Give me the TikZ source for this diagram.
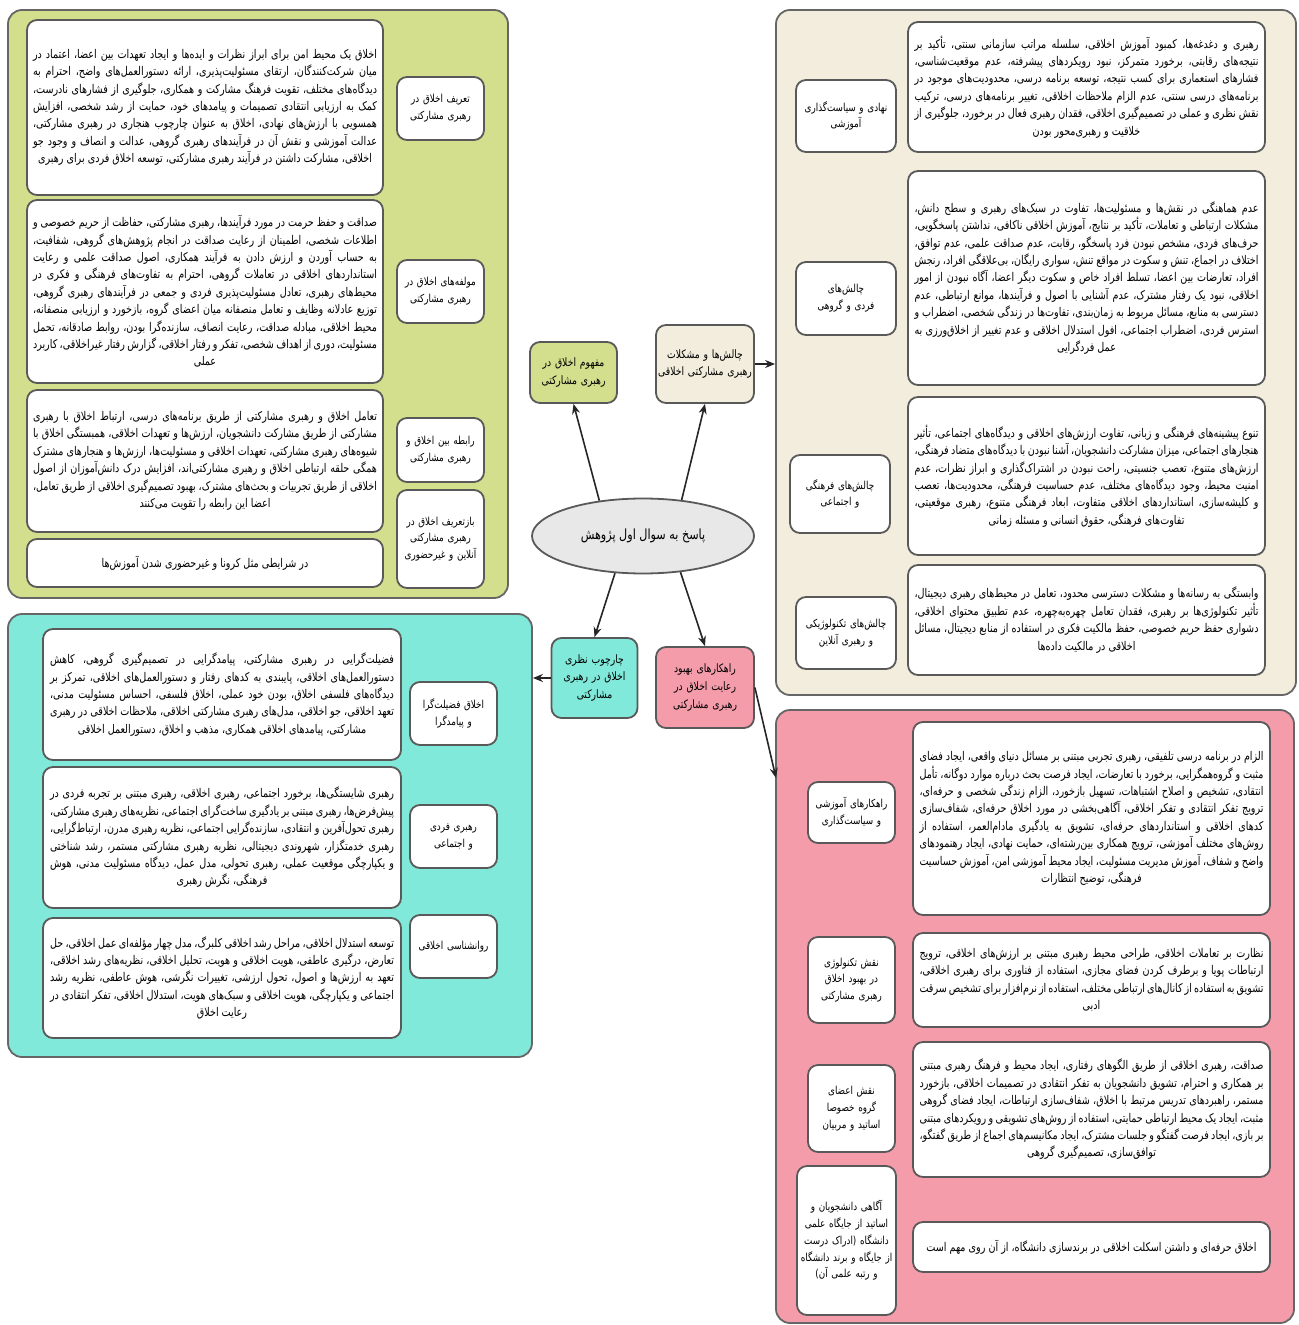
\documentclass[tikz,border=0pt]{standalone}
\usepackage{fontspec}
\usetikzlibrary{arrows.meta,shapes.geometric}
\newfontfamily\fa[Script=Arabic,FakeStretch=0.8]{DejaVu Sans}
\TeXXeTstate=1
\newcommand\fatx[1]{\beginR #1\endR}
\newcommand\fapar[1]{\parbox{172pt}{\fa\fontsize{6}{8.7}\selectfont
  \leftskip=0pt plus 1fil\rightskip=0pt plus -1fil\parfillskip=0pt plus 2fil\relax
  \hyphenpenalty=10000 \exhyphenpenalty=10000
  \beginR #1\endR}}
\definecolor{gfill}{HTML}{D4DF8D}
\definecolor{bfill}{HTML}{F2EDDD}
\definecolor{tfill}{HTML}{80E9D9}
\definecolor{pfill}{HTML}{F59CAB}
\definecolor{efill}{HTML}{E8E8E8}
\tikzset{
 panel/.style={draw=black!60, line width=0.9pt, rounded corners=7pt, inner sep=0pt},
 tbox/.style={draw=black!65, fill=white, line width=0.9pt, rounded corners=5pt, inner sep=2pt},
 lbox/.style={draw=black!65, fill=white, line width=0.9pt, rounded corners=5pt, inner sep=1pt, align=center, font=\fa\fontsize{5.5}{8.4}\selectfont},
 hub/.style={draw=black!65, line width=0.9pt, rounded corners=5pt, inner sep=1pt, align=center, font=\fa\fontsize{5.8}{8.8}\selectfont},
 arr/.style={draw=black!85, line width=0.8pt, -{Stealth[length=5pt,width=4pt]}},
}
\begin{document}
\begin{tikzpicture}[x=0.5pt,y=-0.5pt]
\useasboundingbox (0,0) rectangle (1298,1325);
% panels
\node[panel, fill=gfill, minimum width=250pt, minimum height=294pt] (gp) at (258,304) {};
\node[panel, fill=bfill, minimum width=260pt, minimum height=342.5pt] (bp) at (1036,352.5) {};
\node[panel, fill=tfill, minimum width=262pt, minimum height=221.5pt] (tp) at (270,835.5) {};
\node[panel, fill=pfill, minimum width=259pt, minimum height=306.5pt] (pp) at (1035,1016.5) {};

% green panel
\node[tbox, minimum width=178pt, minimum height=87.5pt] (gt1) at (205,107.5) {\fapar{اخلاق یک محیط امن برای ابراز نظرات و ایده‌ها و ایجاد تعهدات بین اعضا، اعتماد در میان شرکت‌کنندگان، ارتقای مسئولیت‌پذیری، ارائه دستورالعمل‌های واضح، احترام به دیدگاه‌های مختلف، تقویت فرهنگ مشارکت و همکاری، جلوگیری از فشارهای نادرست، کمک به ارزیابی انتقادی تصمیمات و پیامدهای خود، حمایت از رشد شخصی، افزایش همسویی با ارزش‌های نهادی، اخلاق به عنوان چارچوب هنجاری در رهبری مشارکتی، عدالت آموزشی و نقش آن در فرآیندهای رهبری گروهی، عدالت و انصاف و وجود جو اخلاقی، مشارکت داشتن در فرآیند رهبری مشارکتی، توسعه اخلاق فردی برای رهبری}};
\node[lbox, minimum width=43.5pt, minimum height=31.5pt, text width=41pt] (gl1) at (440.5,108.5) {\fatx{تعریف اخلاق در رهبری مشارکتی}};
\node[tbox, minimum width=178pt, minimum height=91.5pt] (gt2) at (205,291.5) {\fapar{صداقت و حفظ حرمت در مورد فرآیندها، رهبری مشارکتی، حفاظت از حریم خصوصی و اطلاعات شخصی، اطمینان از رعایت صداقت در انجام پژوهش‌های گروهی، شفافیت، به حساب آوردن و ارزش دادن به فرآیند همکاری، اصول صداقت علمی و رعایت استانداردهای اخلاقی در تعاملات گروهی، احترام به تفاوت‌های فرهنگی و فکری در محیط‌های رهبری، تعادل مسئولیت‌پذیری فردی و جمعی در فرآیندهای رهبری گروهی، توزیع عادلانه وظایف و تعامل منصفانه میان اعضای گروه، بازخورد و ارزیابی منصفانه، محیط اخلاقی، مبادله صداقت، رعایت انصاف، سازنده‌گرا بودن، روابط صادقانه، تحمل مسئولیت، دوری از اهداف شخصی، تفکر و رفتار اخلاقی، گزارش رفتار غیراخلاقی، کاربرد عملی}};
\node[lbox, minimum width=43.5pt, minimum height=31.5pt, text width=41pt] (gl2) at (440.5,291.5) {\fatx{مولفه‌های اخلاق در رهبری مشارکتی}};
\node[tbox, minimum width=178pt, minimum height=71pt] (gt3) at (205,461) {\fapar{تعامل اخلاق و رهبری مشارکتی از طریق برنامه‌های درسی، ارتباط اخلاق با رهبری مشارکتی از طریق مشارکت دانشجویان، ارزش‌ها و تعهدات اخلاقی، همبستگی اخلاق با شیوه‌های رهبری مشارکتی، تعهدات اخلاقی و مسئولیت‌ها، ارزش‌ها و هنجارهای مشترک همگی حلقه ارتباطی اخلاق و رهبری مشارکتی‌اند، افزایش درک دانش‌آموزان از اصول اخلاقی از طریق تجربیات و بحث‌های مشترک، بهبود تصمیم‌گیری اخلاقی از طریق تعامل، اعضا این رابطه را تقویت می‌کنند}};
\node[lbox, minimum width=43.5pt, minimum height=32pt, text width=41pt] (gl3) at (440.5,450) {\fatx{رابطه بین اخلاق و رهبری مشارکتی}};
\node[lbox, minimum width=43.5pt, minimum height=49pt, text width=41pt] (gl4) at (440.5,539) {\fatx{بازتعریف اخلاق در رهبری مشارکتی آنلاین و غیرحضوری}};
\node[tbox, minimum width=178pt, minimum height=24pt] (gt4) at (205,563) {\fapar{در شرایطی مثل کرونا و غیرحضوری شدن آموزش‌ها}};

% beige panel
\node[tbox, minimum width=178.5pt, minimum height=65pt] (bt1) at (1086.5,87) {\fapar{رهبری و دغدغه‌ها، کمبود آموزش اخلاقی، سلسله مراتب سازمانی سنتی، تأکید بر نتیجه‌های رقابتی، برخورد متمرکز، نبود رویکردهای پیشرفته، عدم موقعیت‌شناسی، فشارهای استعماری برای کسب نتیجه، توسعه برنامه درسی، محدودیت‌های موجود در برنامه‌های درسی سنتی، عدم الزام ملاحظات اخلاقی، تغییر برنامه‌های درسی، ترکیب نقش نظری و عملی در تصمیم‌گیری اخلاقی، فقدان رهبری فعال در برخورد، جلوگیری از خلاقیت و رهبری‌محور بودن}};
\node[lbox, minimum width=50pt, minimum height=36pt, text width=48pt] (bl1) at (846,116) {\fatx{نهادی و سیاست‌گذاری آموزشی}};
\node[tbox, minimum width=178.5pt, minimum height=107pt] (bt2) at (1086.5,278) {\fapar{عدم هماهنگی در نقش‌ها و مسئولیت‌ها، تفاوت در سبک‌های رهبری و سطح دانش، مشکلات ارتباطی و تعاملات، تأکید بر نتایج، آموزش اخلاقی ناکافی، نداشتن پاسخگویی، حرف‌های فردی، مشخص نبودن فرد پاسخگو، رقابت، عدم صداقت علمی، عدم توافق، اختلاف در اجماع، تنش و سکوت در مواقع تنش، سواری رایگان، بی‌علاقگی افراد، رنجش افراد، تعارضات بین اعضا، تسلط افراد خاص و سکوت دیگر اعضا، آگاه نبودن از امور اخلاقی، نبود یک رفتار مشترک، عدم آشنایی با اصول و فرآیندها، موانع ارتباطی، عدم دسترسی به منابع، مسائل مربوط به زمان‌بندی، تفاوت‌ها در زندگی شخصی، اضطراب و استرس فردی، اضطراب اجتماعی، افول استدلال اخلاقی و عدم تغییر از اخلاق‌ورزی به عمل فردگرایی}};
\node[lbox, minimum width=50pt, minimum height=36.5pt, text width=48pt] (bl2) at (846,298.5) {\fatx{چالش‌های فردی و گروهی}};
\node[tbox, minimum width=178.5pt, minimum height=79pt] (bt3) at (1086.5,476) {\fapar{تنوع پیشینه‌های فرهنگی و زبانی، تفاوت ارزش‌های اخلاقی و دیدگاه‌های اجتماعی، تأثیر هنجارهای اجتماعی، میزان مشارکت دانشجویان، آشنا نبودن با دیدگاه‌های متضاد فرهنگی، ارزش‌های متنوع، تعصب جنسیتی، راحت نبودن در اشتراک‌گذاری و ابراز نظرات، عدم امنیت محیط، وجود دیدگاه‌های مختلف، عدم حساسیت فرهنگی، محدودیت‌ها، تعصب و کلیشه‌سازی، استانداردهای اخلاقی متفاوت، ابعاد فرهنگی متنوع، رهبری موقعیتی، تفاوت‌های فرهنگی، حقوق انسانی و مسئله زمانی}};
\node[lbox, minimum width=50pt, minimum height=39pt, text width=48pt] (bl3) at (840,494) {\fatx{چالش‌های فرهنگی و اجتماعی}};
\node[tbox, minimum width=178.5pt, minimum height=55pt] (bt4) at (1086.5,620) {\fapar{وابستگی به رسانه‌ها و مشکلات دسترسی محدود، تعامل در محیط‌های رهبری دیجیتال، تأثیر تکنولوژی‌ها بر رهبری، فقدان تعامل چهره‌به‌چهره، عدم تطبیق محتوای اخلاقی، دشواری حفظ حریم خصوصی، حفظ مالکیت فکری در استفاده از منابع دیجیتال، مسائل اخلاقی در مالکیت داده‌ها}};
\node[lbox, minimum width=50pt, minimum height=36pt, text width=48pt] (bl4) at (846,633) {\fatx{چالش‌های تکنولوژیکی و رهبری آنلاین}};

% teal panel
\node[tbox, minimum width=179pt, minimum height=65.5pt] (tt1) at (222,694.5) {\fapar{فضیلت‌گرایی در رهبری مشارکتی، پیامدگرایی در تصمیم‌گیری گروهی، کاهش دستورالعمل‌های اخلاقی، پایبندی به کدهای رفتار و دستورالعمل‌های اخلاقی، تمرکز بر دیدگاه‌های فلسفی اخلاق، بودن خود عملی، اخلاق فلسفی، احساس مسئولیت مدنی، تعهد اخلاقی، جو اخلاقی، مدل‌های رهبری مشارکتی اخلاقی، ملاحظات اخلاقی در رهبری مشارکتی، پیامدهای اخلاقی همکاری، مذهب و اخلاق، دستورالعمل اخلاقی}};
\node[lbox, minimum width=43.5pt, minimum height=31.5pt, text width=41pt] (tl1) at (453.5,713.5) {\fatx{اخلاق فضیلت‌گرا و پیامدگرا}};
\node[tbox, minimum width=179pt, minimum height=70.5pt] (tt2) at (222,837.5) {\fapar{رهبری شایستگی‌ها، برخورد اجتماعی، رهبری اخلاقی، رهبری مبتنی بر تجربه فردی در پیش‌فرض‌ها، رهبری مبتنی بر یادگیری ساخت‌گرای اجتماعی، نظریه‌های رهبری مشارکتی، رهبری تحول‌آفرین و انتقادی، سازنده‌گرایی اجتماعی، نظریه رهبری مدرن، ارتباط‌گرایی، رهبری خدمتگزار، شهروندی دیجیتالی، نظریه رهبری مشارکتی مستمر، رشد شناختی و یکپارچگی موقعیت عملی، رهبری تحولی، مدل عمل، دیدگاه مسئولیت مدنی، هوش فرهنگی، نگرش رهبری}};
\node[lbox, minimum width=43.5pt, minimum height=31.5pt, text width=41pt] (tl2) at (453.5,836.5) {\fatx{رهبری فردی و اجتماعی}};
\node[tbox, minimum width=179pt, minimum height=60pt] (tt3) at (222,978) {\fapar{توسعه استدلال اخلاقی، مراحل رشد اخلاقی کلبرگ، مدل چهار مؤلفه‌ای عمل اخلاقی، حل تعارض، درگیری عاطفی، هویت اخلاقی و هویت، تحلیل اخلاقی، نظریه‌های رشد اخلاقی، تعهد به ارزش‌ها و اصول، تحول ارزشی، تغییرات نگرشی، هوش عاطفی، نظریه رشد اجتماعی و یکپارچگی، هویت اخلاقی و سبک‌های هویت، استدلال اخلاقی، تفکر انتقادی در رعایت اخلاق}};
\node[lbox, minimum width=43.5pt, minimum height=31.5pt, text width=41pt] (tl3) at (453.5,946.5) {\fatx{روانشناسی اخلاقی}};

% pink panel
\node[tbox, minimum width=178.5pt, minimum height=96.5pt] (pt1) at (1091.5,818.5) {\fapar{الزام در برنامه درسی تلفیقی، رهبری تجربی مبتنی بر مسائل دنیای واقعی، ایجاد فضای مثبت و گروه‌همگرایی، برخورد با تعارضات، ایجاد فرصت بحث درباره موارد دوگانه، تأمل انتقادی، تشخیص و اصلاح اشتباهات، تسهیل بازخورد، الزام زندگی شخصی و حرفه‌ای، ترویج تفکر انتقادی و تفکر اخلاقی، آگاهی‌بخشی در مورد اخلاق حرفه‌ای، شفاف‌سازی کدهای اخلاقی و استانداردهای حرفه‌ای، تشویق به یادگیری مادام‌العمر، استفاده از روش‌های مختلف آموزشی، ترویج همکاری بین‌رشته‌ای، حمایت نهادی، ایجاد رهنمودهای واضح و شفاف، آموزش مدیریت مسئولیت، ایجاد محیط آموزشی امن، آموزش حساسیت فرهنگی، توضیح انتظارات}};
\node[lbox, minimum width=43.5pt, minimum height=30.5pt, text width=41pt] (pl1) at (851.5,812.5) {\fatx{راهکارهای آموزشی و سیاست‌گذاری}};
\node[tbox, minimum width=178.5pt, minimum height=47pt] (pt2) at (1091.5,980) {\fapar{نظارت بر تعاملات اخلاقی، طراحی محیط رهبری مبتنی بر ارزش‌های اخلاقی، ترویج ارتباطات پویا و برطرف کردن فضای مجازی، استفاده از فناوری برای رهبری اخلاقی، تشویق به استفاده از کانال‌های ارتباطی مختلف، استفاده از نرم‌افزار برای تشخیص سرقت ادبی}};
\node[lbox, minimum width=43.5pt, minimum height=43pt, text width=41pt] (pl2) at (851.5,980) {\fatx{نقش تکنولوژی در بهبود اخلاق رهبری مشارکتی}};
\node[tbox, minimum width=178.5pt, minimum height=67.5pt] (pt3) at (1091.5,1109.5) {\fapar{صداقت، رهبری اخلاقی از طریق الگوهای رفتاری، ایجاد محیط و فرهنگ رهبری مبتنی بر همکاری و احترام، تشویق دانشجویان به تفکر انتقادی در تصمیمات اخلاقی، بازخورد مستمر، راهبردهای تدریس مرتبط با اخلاق، شفاف‌سازی ارتباطات، ایجاد فضای گروهی مثبت، ایجاد یک محیط ارتباطی حمایتی، استفاده از روش‌های تشویقی و رویکردهای مبتنی بر بازی، ایجاد فرصت گفتگو و جلسات مشترک، ایجاد مکانیسم‌های اجماع از طریق گفتگو، توافق‌سازی، تصمیم‌گیری گروهی}};
\node[lbox, minimum width=43.5pt, minimum height=43.5pt, text width=41pt] (pl3) at (851.5,1108.5) {\fatx{نقش اعضای گروه خصوصا اساتید و مربیان}};
\node[lbox, minimum width=49.5pt, minimum height=74.5pt, text width=47pt] (pl4) at (846.5,1240.5) {\fatx{آگاهی دانشجویان و اساتید از جایگاه علمی دانشگاه (ادراک درست از جایگاه و برند دانشگاه و رتبه علمی آن)}};
\node[tbox, minimum width=178.5pt, minimum height=25pt] (pt4) at (1091.5,1247) {\fapar{اخلاق حرفه‌ای و داشتن اسکلت اخلاقی در برندسازی دانشگاه، از آن روی مهم است}};

% center
\node[ellipse, draw=black!65, fill=efill, line width=0.9pt, minimum width=111pt, minimum height=37.5pt, inner sep=0pt, font=\fa\fontsize{7}{9}\selectfont] (root) at (643,536) {\fatx{پاسخ به سوال اول پژوهش}};
\node[hub, fill=gfill, minimum width=43.5pt, minimum height=30.5pt, text width=41pt] (gs) at (573.5,372.5) {\fatx{مفهوم اخلاق در رهبری مشارکتی}};
\node[hub, fill=bfill, minimum width=49pt, minimum height=39pt, text width=47pt] (bs) at (705,364) {\fatx{چالش‌ها و مشکلات رهبری مشارکتی اخلاقی}};
\node[hub, fill=tfill, minimum width=42.5pt, minimum height=40pt, text width=41pt] (ts) at (594.5,678) {\fatx{چارچوب نظری اخلاق در رهبری مشارکتی}};
\node[hub, fill=pfill, minimum width=49pt, minimum height=40.5pt, text width=47pt] (ps) at (705,687.5) {\fatx{راهکارهای بهبود رعایت اخلاق در رهبری مشارکتی}};

% connectors
\draw[arr] (root.141) -- (gs.south);
\draw[arr] (root.43) -- (bs.south);
\draw[arr] (root.233) -- (ts.north);
\draw[arr] (root.316) -- (ps.north);
\draw[arr] (bs.east) -- (bs.east -| bp.west);
\draw[arr] (ts.west) -- (ts.west -| tp.east);
\coordinate (pin) at (776,778);
\draw[arr] (ps.east) -- (pin);
\end{tikzpicture}
\end{document}
